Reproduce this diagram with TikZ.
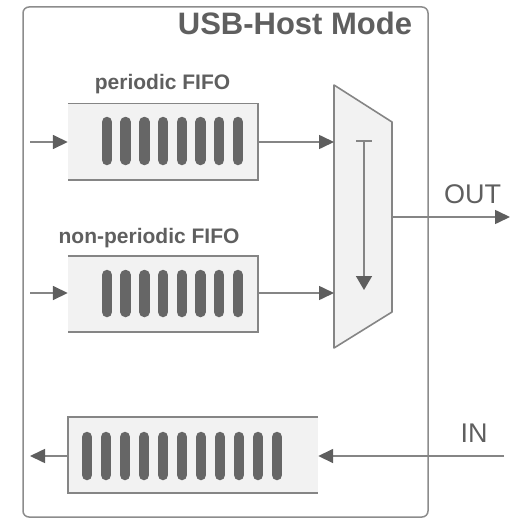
\documentclass[tikz,border=0pt]{standalone}
\usepackage{fontspec}
\setmainfont{Liberation Sans}
\usetikzlibrary{arrows.meta}
\definecolor{framegray}{HTML}{8C8C8C}
\definecolor{linegray}{HTML}{858585}
\definecolor{tipgray}{HTML}{5E5E5E}
\definecolor{boxfill}{HTML}{F2F2F2}
\definecolor{bargray}{HTML}{666666}
\definecolor{textgray}{HTML}{5F5F5F}

\begin{document}
\begin{tikzpicture}[x=1pt,y=-1pt,
  conn/.style={draw=linegray,line width=1.6pt,
    -{Triangle[length=15pt,width=14pt,color=tipgray]}},
  fifobox/.style={fill=boxfill,draw=none,inner sep=0pt,
    minimum width=#1,minimum height=76pt},
  fifobox/.default=190pt,
  edge/.style={draw=linegray,line width=1.6pt},
  slot/.style={draw=bargray,line width=10.5pt,line cap=round},
  caption/.style={text=textgray,font=\bfseries\fontsize{21}{24}\selectfont,anchor=base,inner sep=0pt},
  port/.style={text=textgray,font=\fontsize{27}{30}\selectfont,anchor=base,inner sep=0pt}]

\useasboundingbox (0,0) rectangle (512,519);

% outer frame
\draw[draw=framegray,line width=1.5pt,rounded corners=6pt] (23,7) rectangle (428,517);
\node[text=textgray,font=\bfseries\fontsize{31}{36}\selectfont,anchor=base,inner sep=0pt]
  (title) at (295,35) {USB-Host Mode};

% periodic FIFO
\node[caption] (pcap) at (162.5,89) {periodic FIFO};
\node[fifobox] (pf) at (163,141.5) {};
\draw[edge] (pf.north west) -- (pf.north east) -- (pf.south east) -- (pf.south west);
\foreach \i in {0,...,7}
  \draw[slot] ({107+18.7*\i},122) -- ({107+18.7*\i},160);

% non-periodic FIFO
\node[caption] (npcap) at (149,243) {non-periodic FIFO};
\node[fifobox] (npf) at (163,294) {};
\draw[edge] (npf.north west) -- (npf.north east) -- (npf.south east) -- (npf.south west);
\foreach \i in {0,...,7}
  \draw[slot] ({107+18.7*\i},275) -- ({107+18.7*\i},312);

% receive FIFO
\node[fifobox=250pt] (rx) at (193,455) {};
\draw[edge] (rx.north east) -- (rx.north west) -- (rx.south west) -- (rx.south east);
\foreach \i in {0,...,10}
  \draw[slot] ({87+19*\i},437) -- ({87+19*\i},475);

% multiplexer
\coordinate (mtl) at (334,85);
\coordinate (mtr) at (392,122);
\coordinate (mbr) at (392,312);
\coordinate (mbl) at (334,348);
\draw[draw=linegray,fill=boxfill,line width=1.6pt,line join=round]
  (mtl) -- (mtr) -- (mbr) -- (mbl) -- cycle;
\coordinate (msel0) at (364,140);
\coordinate (msel1) at (364,290);
\draw[draw=linegray,line width=1.6pt,
  {Bar[width=16pt]}-{Triangle[length=14pt,width=16pt,color=tipgray]}] (msel0) -- (msel1);
\coordinate (min1) at (334,142);
\coordinate (min2) at (334,293);
\coordinate (mout) at (392,217);

% inputs and outputs
\coordinate (pin) at (30,142);
\coordinate (npin) at (30,293);
\coordinate (rxout) at (30,456);
\coordinate (outend) at (510,217);
\coordinate (instart) at (504,456);
\draw[conn] (pin) -- (pf.west |- pin);
\draw[conn] (npin) -- (npf.west |- npin);
\draw[conn] (pf.east |- min1) -- (min1);
\draw[conn] (npf.east |- min2) -- (min2);
\draw[conn] (mout) -- (outend);
\draw[conn] (instart) -- (rx.east |- instart);
\draw[conn] (rx.west |- rxout) -- (rxout);

\node[port] (outlbl) at (472.5,203) {OUT};
\node[port] (inlbl) at (474,442) {IN};
\end{tikzpicture}
\end{document}
